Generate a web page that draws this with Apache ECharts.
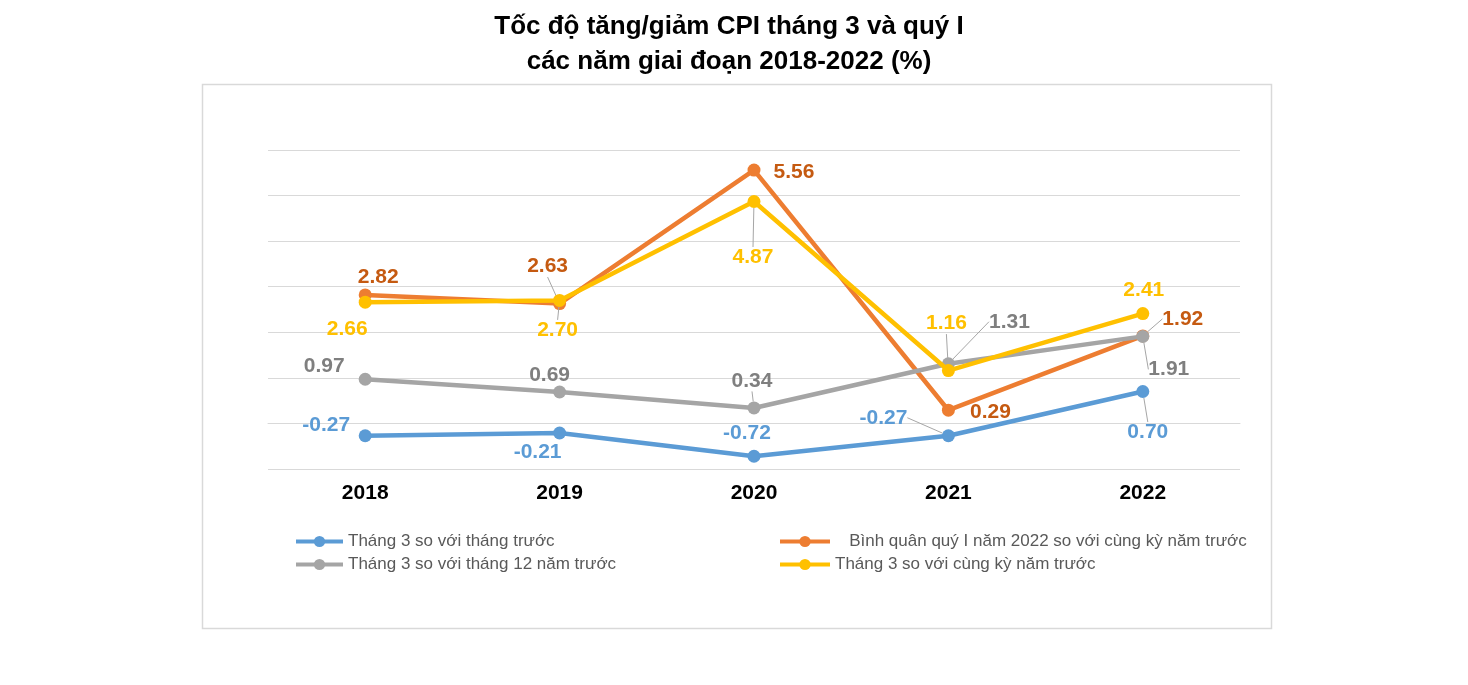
<!DOCTYPE html>
<html><head><meta charset="utf-8">
<script src="https://cdn.jsdelivr.net/npm/echarts@6/dist/echarts.min.js"></script>
<style>html,body{margin:0;padding:0;background:#fff}#c{width:1468px;height:685px}</style>
</head><body><div id="c"></div>
<script>
// ---- data ----
const categories = ['2018', '2019', '2020', '2021', '2022'];
const seriesNames = [
  'Tháng 3 so với tháng trước',
  'Bình quân quý I năm 2022 so với cùng kỳ năm trước',
  'Tháng 3 so với tháng 12 năm trước',
  'Tháng 3 so với cùng kỳ năm trước'
];
const monthVsPrevMonth = [-0.27, -0.21, -0.72, -0.27, 0.70];
const q1AvgVsPrevYear = [2.82, 2.63, 5.56, 0.29, 1.92];
const monthVsDecPrevYear = [0.97, 0.69, 0.34, 1.31, 1.91];
const monthVsSamePrevYear = [2.66, 2.70, 4.87, 1.16, 2.41];
const titleLines = ['Tốc độ tăng/giảm CPI tháng 3 và quý I', 'các năm giai đoạn 2018-2022 (%)'];

// ---- styling (label placement) ----
const lineColors = ['#5B9BD5', '#ED7D31', '#A5A5A5', '#FFC000'];
const labelColors = ['#5B9BD5', '#C55A11', '#7F7F7F', '#FFC000'];
const labelOffsets = [
  [[-39, -11], [-22, 19], [-7, -23], [-65, -18], [5, 41]],
  [[13, -18], [-12, -37], [40, 2], [42, 2], [40, -17]],
  [[-41, -13], [-10, -17], [-2, -27], [61, -42], [26, 33]],
  [[-18, 27], [-2, 30], [-1, 56], [-2, -47], [1, -23]]
];
const leaderLines = [
  [false, false, false, true, true],
  [false, true, false, false, true],
  [false, false, true, true, true],
  [false, true, true, true, false]
];
const allValues = [monthVsPrevMonth, q1AvgVsPrevYear, monthVsDecPrevYear, monthVsSamePrevYear];
const FONT = '"Liberation Sans", Arial, sans-serif';

const chart = echarts.init(document.getElementById('c'), null, {renderer: 'canvas'});

const series = allValues.map((vals, si) => ({
  name: seriesNames[si],
  type: 'line',
  data: vals.map((v, di) => ({
    value: v,
    labelLine: {show: leaderLines[si][di], lineStyle: {color: '#A6A6A6', width: 1}}
  })),
  symbol: 'circle',
  symbolSize: 13,
  showSymbol: true,
  lineStyle: {width: 4.5, color: lineColors[si]},
  itemStyle: {color: lineColors[si]},
  label: {
    show: true,
    position: 'inside',
    formatter: p => p.value.toFixed(2),
    color: labelColors[si],
    fontSize: 21,
    fontWeight: 'bold',
    fontFamily: FONT,
    textBorderWidth: 0
  },
  labelLine: {show: false},
  labelLayout: function (p) {
    const o = labelOffsets[p.seriesIndex][p.dataIndex];
    return {
      x: p.rect.x + p.rect.width / 2 + o[0],
      y: p.rect.y + p.rect.height / 2 + o[1],
      align: 'center',
      verticalAlign: 'middle'
    };
  },
  emphasis: {disabled: true},
  animation: false,
  z: 2 + si
}));

const legendText = {fontSize: 17, color: '#595959', fontFamily: FONT, lineHeight: 16};

chart.setOption({
  animation: false,
  backgroundColor: '#fff',
  graphic: [
    {type: 'rect', shape: {x: 202.5, y: 84.5, width: 1069, height: 544}, style: {fill: 'none', stroke: '#D9D9D9', lineWidth: 1.5}, z: 0},
    {type: 'text', x: 729, y: 9, style: {
      text: titleLines.join('\n'), align: 'center', verticalAlign: 'top',
      fontSize: 26, fontWeight: 'bold', fontFamily: FONT,
      lineHeight: 35, fill: '#000'
    }}
  ],
  grid: {left: 268, right: 228, top: 150, bottom: 216, containLabel: false},
  xAxis: {
    type: 'category',
    data: categories,
    boundaryGap: true,
    axisLine: {show: true, lineStyle: {color: '#D9D9D9', width: 1}},
    axisTick: {show: false},
    axisLabel: {margin: 14, fontSize: 21, fontWeight: 'bold', color: '#000', fontFamily: FONT}
  },
  yAxis: {
    type: 'value',
    min: -1, max: 6, interval: 1,
    axisLabel: {show: false},
    axisLine: {show: false},
    axisTick: {show: false},
    splitLine: {lineStyle: {color: '#D9D9D9', width: 1}}
  },
  legend: [
    {
      orient: 'vertical', left: 289, top: 528, itemGap: 6, itemWidth: 47, itemHeight: 14,
      data: [seriesNames[0], seriesNames[2]], textStyle: legendText, selectedMode: false,
      lineStyle: {width: 4}
    },
    {
      orient: 'vertical', left: 773, top: 528, itemGap: 6, itemWidth: 50, itemHeight: 14,
      data: [seriesNames[1], seriesNames[3]], textStyle: legendText, selectedMode: false,
      lineStyle: {width: 4},
      formatter: n => (n === seriesNames[1] ? '   ' + n : n)
    }
  ],
  series: series
});
</script>
</body></html>
